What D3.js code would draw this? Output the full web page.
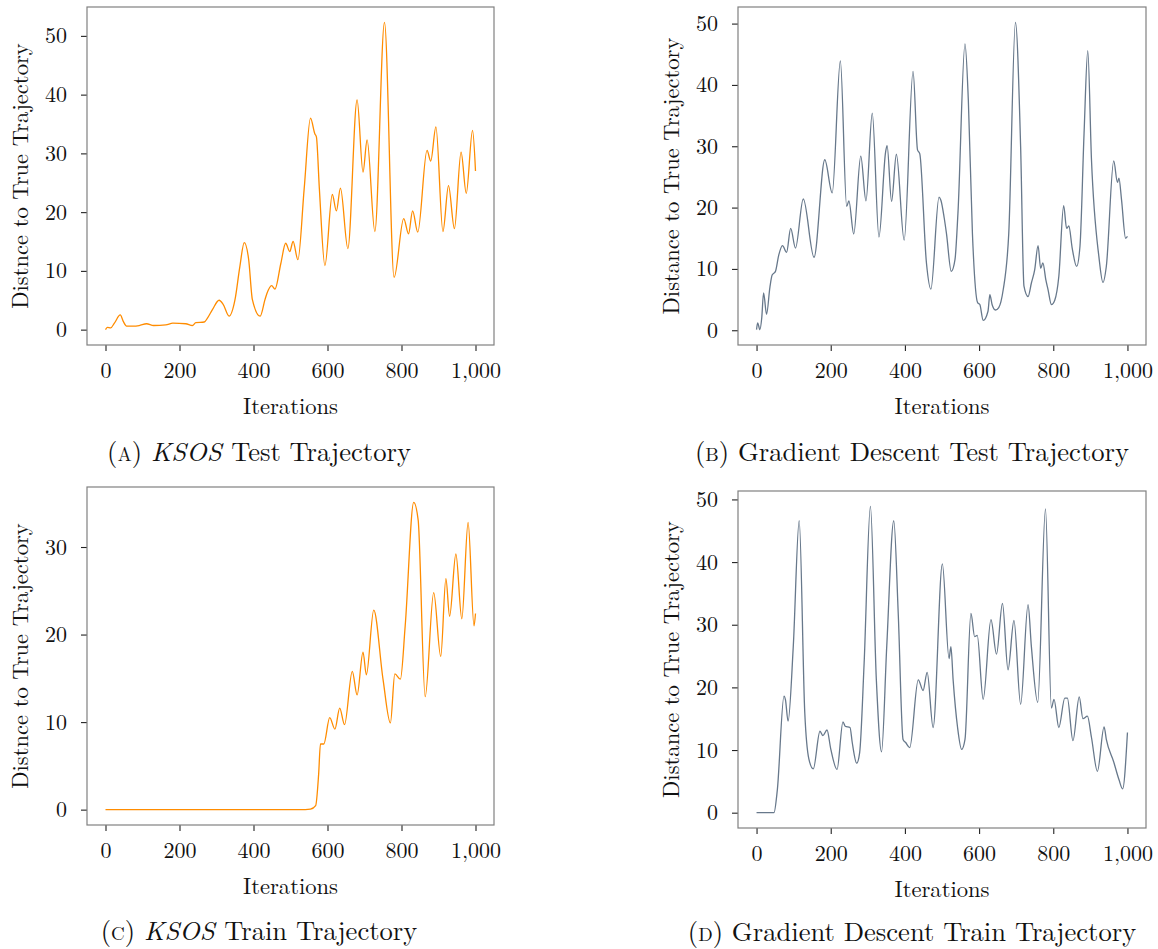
<!DOCTYPE html>
<html>
<head>
<meta charset="utf-8">
<script src="https://cdn.jsdelivr.net/npm/d3@7"></script>
<style>
  body { margin: 0; background: #fff; }
  text { font-family: "Latin Modern Roman", "CMU Serif", "Liberation Serif", serif; fill: #111; }
</style>
</head>
<body>
<svg width="1158" height="949"></svg>
<script>
// values (iteration, distance)
const ksosTestIter = [0, 5, 14, 24, 40, 48, 57, 75, 91, 111, 130, 163, 182, 217, 235, 244, 267, 276, 289, 307,
  318, 334, 350, 363, 375, 387, 397, 418, 431, 436, 449, 458, 474, 487, 498, 507, 520, 537, 554, 566,
  570, 578, 593, 613, 624, 635, 655, 680, 696, 707, 728, 754, 780, 806, 819, 830, 844, 869, 879, 893,
  912, 927, 943, 961, 975, 992, 1000];
const ksosTestDist = [0.0, 0.4, 0.3, 1.1, 2.5, 1.4, 0.6, 0.6, 0.7, 1.0, 0.7, 0.8, 1.1, 1.0, 0.7, 1.2, 1.3, 2.0, 3.4, 5.0,
  4.3, 2.3, 5.1, 10.7, 14.8, 11.9, 5.1, 2.3, 5.1, 6.1, 7.5, 6.9, 11.3, 14.7, 13.3, 15.0, 11.9, 24.0, 36.0, 33.3,
  32.8, 24.0, 10.9, 23.0, 20.2, 24.1, 13.8, 39.1, 26.8, 32.3, 16.7, 52.3, 8.9, 18.9, 16.3, 20.2, 16.6, 30.5, 28.7, 34.5,
  16.7, 24.5, 17.2, 30.2, 23.2, 33.9, 27.0];

const gdTestIter = [0, 3, 9, 14, 19, 27, 36, 42, 51, 60, 70, 81, 92, 105, 126, 155, 184, 204, 226, 243,
  249, 262, 281, 295, 312, 330, 348, 352, 364, 377, 398, 422, 434, 440, 458, 470, 492, 497, 506, 512,
  525, 535, 543, 562, 571, 582, 596, 602, 611, 624, 629, 635, 644, 653, 665, 680, 698, 712, 721, 732,
  741, 750, 759, 766, 772, 780, 786, 795, 804, 815, 828, 836, 842, 851, 863, 872, 883, 893, 903, 923,
  934, 943, 963, 973, 977, 984, 995, 1000];
const gdTestDist = [0.1, 1.2, 0.1, 2.0, 6.1, 2.6, 7.0, 9.0, 9.6, 12.3, 13.8, 12.7, 16.6, 13.4, 21.4, 11.9, 27.8, 22.4, 43.9, 20.2,
  21.1, 15.7, 28.4, 21.1, 35.4, 15.2, 29.1, 30.1, 21.0, 28.7, 14.7, 42.2, 29.4, 28.8, 11.0, 6.7, 21.7, 21.2, 18.3, 15.8,
  9.6, 11.5, 19.1, 46.7, 37.5, 15.8, 4.5, 4.2, 1.6, 3.1, 5.8, 4.2, 3.3, 3.7, 6.6, 15.8, 50.2, 29.9, 7.2, 5.5,
  7.7, 9.9, 13.8, 10.1, 11.0, 8.2, 6.6, 4.2, 4.9, 8.8, 20.3, 16.6, 17.0, 13.4, 10.4, 13.7, 32.1, 45.6, 27.8, 12.0,
  7.8, 10.4, 27.6, 24.1, 24.8, 21.3, 15.0, 15.3];

const ksosTrainIter = [0, 540, 554, 568, 576, 581, 590, 606, 620, 633, 646, 667, 680, 696, 705, 725, 750, 770, 782, 797,
  810, 833, 845, 864, 887, 906, 920, 930, 947, 963, 980, 996, 1000];
const ksosTrainDist = [0, 0, 0.05, 0.45, 4, 7.5, 7.5, 10.5, 9.2, 11.6, 9.7, 15.8, 13.1, 18.0, 15.4, 22.8, 14.9, 9.9, 15.5, 14.9,
  21, 35.1, 33.1, 12.9, 24.8, 17.5, 26.4, 22.1, 29.2, 21.8, 32.8, 21.0, 22.4];

const gdTrainIter = [0, 47, 56, 74, 78, 85, 99, 115, 130, 141, 153, 171, 179, 190, 200, 217, 233, 239, 252, 258,
  270, 278, 290, 307, 323, 337, 351, 370, 382, 395, 402, 413, 436, 449, 460, 476, 501, 519, 524, 530,
  542, 553, 562, 578, 588, 595, 611, 632, 647, 663, 678, 694, 712, 732, 741, 758, 779, 795, 802, 815,
  831, 838, 853, 870, 880, 892, 903, 919, 937, 943, 963, 977, 987, 1000];
const gdTrainDist = [0, 0, 3.6, 18.6, 18.0, 14.6, 26.5, 46.6, 16.0, 8.6, 7.0, 13.0, 12.3, 13.2, 10.2, 6.9, 14.5, 13.8, 13.6, 11.2,
  7.9, 9.6, 23.8, 48.9, 21.2, 9.7, 26.5, 46.6, 31.8, 11.7, 11.2, 10.4, 21.2, 19.5, 22.4, 13.6, 39.7, 24.6, 26.5, 21.2,
  13.6, 10.1, 11.7, 31.8, 28.1, 28.3, 18.1, 30.8, 25.3, 33.4, 22.8, 30.7, 17.3, 33.2, 26.5, 17.6, 48.5, 16.7, 18.1, 13.6,
  18.3, 18.3, 11.5, 18.5, 15.0, 15.4, 12.0, 6.6, 13.7, 11.7, 8.1, 5.3, 3.8, 12.8];

const xTicks = [0, 200, 400, 600, 800, 1000];
const yTicks50 = [0, 10, 20, 30, 40, 50];
const yTicks30 = [0, 10, 20, 30];

const orange = "#ff8c00";
const slate = "#67788b";

const svg = d3.select("svg");

function panel(p) {
  let g = svg.append("g");

  let x = d3.scaleLinear().domain([-50, 1050]).range([p.left, p.right]);
  // pgfplots style: 5% padding on the y range
  let lo = d3.min(p.dist), hi = d3.max(p.dist), pad = (hi - lo) * 0.05;
  let y = d3.scaleLinear().domain([lo - pad, hi + pad]).range([p.bottom, p.top]);

  // axes (ticks only, outside)
  let xa = g.append("g")
    .attr("transform", "translate(0," + p.bottom + ")")
    .call(d3.axisBottom(x).tickValues(xTicks).tickFormat(d3.format(",")).tickSize(6).tickSizeOuter(0).tickPadding(11));
  let ya = g.append("g")
    .attr("transform", "translate(" + p.left + ",0)")
    .call(d3.axisLeft(y).tickValues(p.yTicks).tickSize(6).tickSizeOuter(0).tickPadding(14));
  [xa, ya].forEach(a => {
    a.attr("font-family", null).attr("font-size", 22);
    a.select(".domain").remove();
    a.selectAll("line").attr("stroke", "#222").attr("stroke-width", 1.1);
  });

  // the line
  let line = d3.line()
    .x((d, i) => x(p.iter[i]))
    .y(d => y(d))
    .curve(d3.curveMonotoneX);
  g.append("path")
    .datum(p.dist)
    .attr("d", line)
    .attr("fill", "none")
    .attr("stroke", p.color)
    .attr("stroke-width", 1.3);

  // frame
  g.append("rect")
    .attr("x", p.left).attr("y", p.top)
    .attr("width", p.right - p.left).attr("height", p.bottom - p.top)
    .attr("fill", "none").attr("stroke", "#808080").attr("stroke-width", 1.2);

  // labels
  g.append("text")
    .attr("x", (p.left + p.right) / 2).attr("y", p.bottom + 69)
    .attr("text-anchor", "middle").attr("font-size", 22.6)
    .text("Iterations");

  g.append("text")
    .attr("transform", "translate(" + (p.left - 59) + "," + ((p.top + p.bottom) / 2) + ") rotate(-90)")
    .attr("text-anchor", "middle").attr("font-size", 22.6)
    .text(p.ylabel);

  let cap = g.append("text")
    .attr("x", p.capX).attr("y", p.capY)
    .attr("text-anchor", "middle").attr("font-size", 26.6);
  cap.append("tspan").text("(");
  cap.append("tspan").attr("font-variant", "small-caps").text(p.letter);
  cap.append("tspan").text(") ");
  if (p.italic) cap.append("tspan").attr("font-style", "italic").text(p.italic + " ");
  cap.append("tspan").text(p.caption);
}

panel({ left: 87, right: 494, top: 7, bottom: 345, iter: ksosTestIter, dist: ksosTestDist, color: orange,
  yTicks: yTicks50, ylabel: "Distnce to True Trajectory", letter: "a", italic: "KSOS", caption: "Test Trajectory",
  capX: 259, capY: 461 });
panel({ left: 738, right: 1146, top: 7, bottom: 345, iter: gdTestIter, dist: gdTestDist, color: slate,
  yTicks: yTicks50, ylabel: "Distance to True Trajectory", letter: "b", italic: null, caption: "Gradient Descent Test Trajectory",
  capX: 912, capY: 461 });
panel({ left: 87, right: 494, top: 487, bottom: 825, iter: ksosTrainIter, dist: ksosTrainDist, color: orange,
  yTicks: yTicks30, ylabel: "Distnce to True Trajectory", letter: "c", italic: "KSOS", caption: "Train Trajectory",
  capX: 259, capY: 940 });
panel({ left: 738, right: 1146, top: 491, bottom: 828, iter: gdTrainIter, dist: gdTrainDist, color: slate,
  yTicks: yTicks50, ylabel: "Distance to True Trajectory", letter: "d", italic: null, caption: "Gradient Descent Train Trajectory",
  capX: 912, capY: 941 });
</script>
</body>
</html>
